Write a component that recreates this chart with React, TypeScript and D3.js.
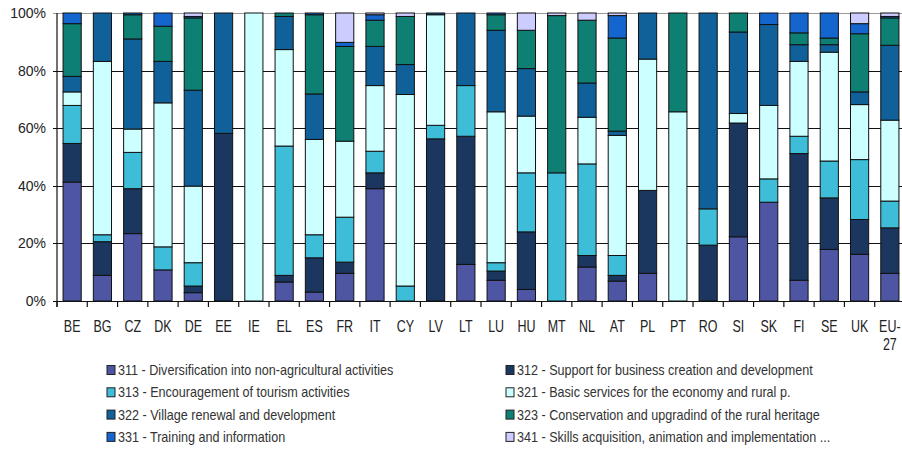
import { useEffect, useRef } from "react"
import * as d3 from "d3"

const countries = ["BE", "BG", "CZ", "DK", "DE", "EE", "IE", "EL", "ES", "FR", "IT", "CY", "LV", "LT", "LU", "HU", "MT", "NL", "AT", "PL", "PT", "RO", "SI", "SK", "FI", "SE", "UK", "EU-27"]

const m311 = [41.3, 8.9, 23.4, 10.8, 2.9, 0, 0, 6.6, 3.1, 9.6, 39.0, 0, 0, 12.7, 7.2, 4.0, 0, 11.8, 6.9, 9.6, 0, 0, 22.3, 34.3, 7.2, 17.9, 16.2, 9.6]
const m312 = [13.4, 11.7, 15.6, 0, 2.3, 58.2, 0, 2.3, 11.9, 3.9, 5.5, 0, 56.3, 44.5, 3.2, 20.0, 0, 4.0, 2.0, 28.8, 0, 19.4, 39.5, 0, 44.0, 17.9, 12.1, 15.8]
const m313 = [13.2, 2.4, 12.6, 8.0, 8.1, 0, 0, 44.9, 8.0, 15.6, 7.5, 5.2, 4.7, 17.6, 2.9, 20.5, 44.5, 31.8, 6.9, 0, 0, 12.6, 0, 8.1, 6.0, 12.8, 20.8, 9.3]
const m321 = [4.7, 60.2, 8.1, 50.0, 26.6, 0, 100, 33.5, 33.1, 26.4, 22.8, 66.5, 38.4, 0, 52.4, 19.7, 0, 16.2, 41.7, 45.6, 65.7, 0, 3.3, 25.5, 26.0, 37.8, 19.1, 28.1]
const m322 = [5.4, 16.8, 31.3, 14.4, 33.3, 41.8, 0, 11.5, 15.8, 0, 13.6, 10.4, 0.6, 25.2, 28.3, 16.5, 0, 11.9, 1.5, 16.0, 0, 68.0, 28.3, 28.1, 5.8, 2.6, 4.4, 26.0]
const m323 = [18.3, 0, 8.4, 12.2, 25.1, 0, 0, 1.2, 27.5, 32.9, 9.1, 16.7, 0, 0, 5.4, 13.3, 54.6, 21.8, 32.3, 0, 34.3, 0, 6.6, 0, 4.1, 2.3, 20.2, 9.5]
const m331 = [3.7, 0, 0.6, 4.6, 0.5, 0, 0, 0, 0.6, 1.4, 1.9, 0, 0, 0, 0.6, 0, 0, 0, 7.8, 0, 0, 0, 0, 4.0, 6.9, 8.7, 3.5, 0.5]
const m341 = [0, 0, 0, 0, 1.2, 0, 0, 0, 0, 10.2, 0.6, 1.2, 0, 0, 0, 6.0, 0.9, 2.5, 0.9, 0, 0, 0, 0, 0, 0, 0, 3.7, 1.2]

const measures = [
  { key: "311", label: "311 - Diversification into non-agricultural activities", color: "#4e55a2", values: m311 },
  { key: "312", label: "312 - Support for business creation and development", color: "#1b365f", values: m312 },
  { key: "313", label: "313 - Encouragement of tourism activities", color: "#3dbdd8", values: m313 },
  { key: "321", label: "321 - Basic services for the economy and rural p.", color: "#ccffff", values: m321 },
  { key: "322", label: "322 - Village renewal and development", color: "#106199", values: m322 },
  { key: "323", label: "323 - Conservation and upgradind of the rural heritage", color: "#0e8073", values: m323 },
  { key: "331", label: "331 - Training and information", color: "#1565ce", values: m331 },
  { key: "341", label: "341 - Skills acquisition, animation and implementation ...", color: "#ccccff", values: m341 },
]

const yTicks = [0, 0.2, 0.4, 0.6, 0.8, 1]

export default function App() {
  const svgRef = useRef(null)

  useEffect(() => {
    if (!svgRef.current) return
    const svg = d3.select(svgRef.current)
    svg.selectAll("*").remove()

    const width = 902
    const height = 450
    const left = 57
    const right = 905
    const top = 13
    const bottom = 301

    const rows = countries.map((c, i) => {
      const r: any = { country: c }
      measures.forEach((m) => (r[m.key] = m.values[i]))
      return r
    })

    const series = d3
      .stack()
      .keys(measures.map((m) => m.key))
      .offset(d3.stackOffsetExpand)(rows)

    const x = d3.scaleBand().domain(countries).range([left, right]).paddingInner(0.4).paddingOuter(0.2)
    const y = d3.scaleLinear().domain([0, 1]).range([bottom, top])

    svg.append("rect").attr("width", width).attr("height", height).attr("fill", "#fff")

    // grid
    svg
      .append("g")
      .selectAll("line")
      .data(yTicks)
      .enter()
      .append("line")
      .attr("x1", left - 4)
      .attr("x2", right)
      .attr("y1", (d) => Math.round(y(d)) + 0.5)
      .attr("y2", (d) => Math.round(y(d)) + 0.5)
      .attr("stroke", (d) => (d === 1 ? "#999" : "#111"))
      .attr("stroke-width", 1.2)

    // bars
    const color = d3.scaleOrdinal<string, string>().domain(measures.map((m) => m.key)).range(measures.map((m) => m.color))
    series.forEach((s) => {
      svg
        .append("g")
        .attr("fill", color(s.key))
        .selectAll("rect")
        .data(s.filter((d) => d[1] - d[0] > 0))
        .enter()
        .append("rect")
        .attr("x", (d) => x(d.data.country as string)!)
        .attr("width", x.bandwidth())
        .attr("y", (d) => y(d[1]))
        .attr("height", (d) => y(d[0]) - y(d[1]))
        .attr("stroke", "#111")
        .attr("stroke-width", 1)
    })

    // axes
    const step = x.step()
    const axis = svg.append("g").attr("stroke", "#111").attr("stroke-width", 1.2)
    axis.append("line").attr("x1", left).attr("x2", left).attr("y1", top).attr("y2", bottom + 6)
    axis.append("line").attr("x1", left - 4).attr("x2", right).attr("y1", bottom + 0.5).attr("y2", bottom + 0.5)
    axis
      .selectAll(".tick")
      .data(d3.range(countries.length + 1))
      .enter()
      .append("line")
      .attr("x1", (i) => left + i * step)
      .attr("x2", (i) => left + i * step)
      .attr("y1", bottom)
      .attr("y2", bottom + 6)

    // y labels
    svg
      .append("g")
      .selectAll("text")
      .data(yTicks)
      .enter()
      .append("text")
      .attr("x", 46)
      .attr("y", (d) => y(d))
      .attr("dy", "0.35em")
      .attr("text-anchor", "end")
      .attr("font-family", "'Liberation Sans', Arial, sans-serif")
      .attr("font-size", 14)
      .attr("fill", "#222")
      .text((d) => d3.format(".0%")(d))

    // x labels
    const xl = svg
      .append("g")
      .selectAll("text")
      .data(countries)
      .enter()
      .append("text")
      .attr("transform", (d) => `translate(${x(d)! + x.bandwidth() / 2},332) scale(0.78,1)`)
      .attr("text-anchor", "middle")
      .attr("font-family", "'Liberation Sans', Arial, sans-serif")
      .attr("font-size", 16)
      .attr("fill", "#222")
    xl.each(function (d) {
      const parts = d === "EU-27" ? ["EU-", "27"] : [d]
      const t = d3.select(this)
      parts.forEach((p, i) => {
        t.append("tspan").attr("x", 0).attr("y", i * 18).text(p)
      })
    })

    // legend
    const legend = svg.append("g")
    measures.forEach((m, i) => {
      const col = i % 2
      const row = Math.floor(i / 2)
      const lx = col === 0 ? 107 : 506
      const ly = 370 + row * 22.3
      const g = legend.append("g").attr("transform", `translate(${lx},${ly})`)
      g.append("rect").attr("x", 0).attr("y", -4.5).attr("width", 8).attr("height", 9).attr("fill", m.color).attr("stroke", "#222").attr("stroke-width", 1)
      g.append("text")
        .attr("transform", "translate(11,0) scale(0.9,1)")
        .attr("dy", "0.35em")
        .attr("font-family", "'Liberation Sans', Arial, sans-serif")
        .attr("font-size", 14)
        .attr("fill", "#333")
        .text(m.label)
    })

    svg.attr("width", width).attr("height", height).attr("viewBox", [0, 0, width, height])
  }, [])

  return (
    <div style={{ position: "absolute", left: 0, top: 0, width: 902, height: 450 }}>
      <svg ref={svgRef} style={{ display: "block" }}></svg>
    </div>
  )
}
